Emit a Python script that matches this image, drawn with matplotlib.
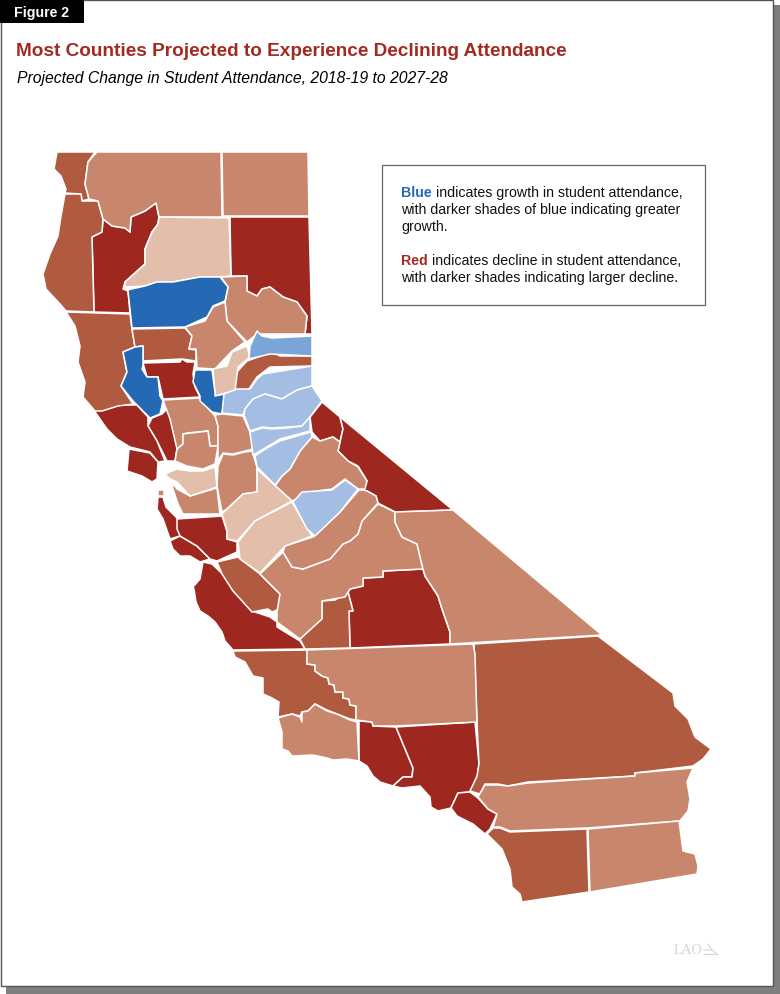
import matplotlib
matplotlib.use("Agg")
import matplotlib.pyplot as plt
from matplotlib.patches import Polygon, Rectangle

plt.rcParams['font.family'] = ['Liberation Sans', 'DejaVu Sans']

# shades
DARK_RED = '#9E271F'
MID_RED = '#B05A40'
LIGHT_RED = '#C8866D'
PALE_RED = '#E3BEAA'
DARK_BLUE = '#2569B5'
MID_BLUE = '#7BA5D8'
LIGHT_BLUE = '#A3BDE3'

# county outlines (x, y in image pixels)
del_norte = [(57,153),(95,153),(88,163),(85,185),(89,200),(82,202),(81,195),(65,194),(66,190),(61,177),(54,170)]
siskiyou = [(97,153),(221,153),(222,218),(159,218),(156,204),(145,212),(131,218),(130,233),(125,229),(112,227),(103,220),(98,202),(89,200),(85,185),(88,163)]
modoc = [(222,153),(308,153),(309,217),(223,217)]
humboldt = [(65,195),(81,195),(82,202),(98,202),(103,220),(102,233),(92,238),(94,313),(66,312),(60,305),(46,290),(43,275),(50,255),(58,237),(61,217)]
trinity = [(103,220),(112,227),(125,229),(130,233),(131,218),(145,212),(156,204),(159,218),(158,225),(152,233),(145,250),(145,265),(125,283),(123,290),(128,292),(130,314),(94,313),(92,238),(102,233)]
shasta = [(159,218),(229,219),(231,277),(220,278),(200,278),(173,283),(157,283),(145,287),(125,288),(125,283),(145,265),(145,250),(152,233),(158,225)]
lassen = [(230,218),(309,218),(312,335),(305,335),(307,317),(297,303),(283,298),(270,288),(262,290),(257,297),(247,292),(247,277),(231,277)]
tehama = [(127,291),(145,287),(157,283),(173,283),(200,278),(220,278),(228,288),(225,302),(213,307),(207,318),(185,328),(132,329),(128,292)]
plumas = [(221,278),(247,277),(247,292),(257,297),(262,290),(270,288),(283,298),(297,303),(307,317),(305,335),(257,335),(247,343),(227,322),(225,303),(228,288)]
butte = [(225,303),(227,322),(245,343),(232,352),(215,370),(197,369),(196,350),(189,350),(192,337),(185,328),(205,322),(213,308)]
glenn = [(132,330),(185,329),(192,337),(189,350),(196,351),(196,362),(182,360),(143,362),(143,347),(135,348)]
mendocino = [(66,313),(130,315),(132,330),(135,348),(123,353),(127,373),(121,387),(133,405),(118,407),(102,412),(95,412),(83,398),(85,383),(78,363),(80,347),(75,327)]
lake = [(123,353),(135,348),(143,347),(143,367),(142,370),(147,378),(158,378),(160,397),(163,402),(160,415),(150,419),(143,412),(133,402),(121,387),(127,373)]
colusa = [(143,364),(180,363),(182,360),(187,363),(195,363),(193,375),(195,388),(200,398),(163,400),(158,378),(147,378)]
sutter = [(195,371),(212,371),(215,393),(215,397),(225,395),(222,415),(212,413),(200,402),(200,397),(193,383)]
yuba = [(213,370),(227,367),(232,353),(247,347),(250,358),(238,368),(235,392),(225,394),(215,397)]
sierra = [(257,332),(262,337),(272,339),(312,337),(312,357),(270,355),(249,360),(250,347)]
nevada = [(272,353),(280,357),(312,357),(312,367),(270,368),(257,378),(247,393),(235,392),(235,375),(247,362)]
placer = [(263,375),(312,367),(312,387),(297,391),(282,400),(265,395),(253,400),(245,410),(243,416),(222,414),(224,395),(237,390),(250,390),(257,380)]
el_dorado = [(312,387),(322,402),(310,418),(302,427),(287,428),(272,429),(262,428),(250,432),(244,416),(245,410),(253,400),(265,395),(282,400),(297,391)]
amador = [(250,433),(262,429),(272,430),(287,429),(302,427),(310,418),(310,432),(280,440),(267,448),(253,456)]
calaveras = [(255,457),(267,449),(280,442),(311,433),(312,438),(300,452),(290,470),(282,477),(275,486),(257,468)]
alpine = [(322,403),(340,418),(343,430),(340,443),(333,438),(320,442),(312,433),(310,418)]
mono = [(340,418),(453,511),(395,513),(378,504),(376,497),(367,492),(363,491),(367,482),(358,467),(348,462),(338,452),(340,443),(343,430)]
tuolumne = [(312,438),(320,442),(333,438),(340,443),(338,452),(348,462),(358,468),(367,482),(365,490),(358,490),(345,480),(332,490),(317,492),(292,502),(275,487),(282,477),(290,470),(300,452)]
mariposa = [(293,503),(302,493),(317,492),(332,491),(345,481),(358,490),(340,513),(315,537),(307,530)]
yolo = [(163,401),(200,399),(207,408),(215,417),(218,427),(218,447),(210,447),(208,432),(187,434),(183,435),(183,445),(177,450),(170,420)]
solano = [(183,435),(208,432),(210,447),(218,447),(215,465),(203,470),(187,467),(175,462),(177,450),(183,445)]
napa = [(170,407),(175,417),(183,445),(177,450),(175,462),(167,462),(157,442),(148,427),(152,419),(162,415)]
sonoma = [(93,410),(103,410),(120,406),(137,406),(148,418),(148,427),(157,442),(165,462),(158,463),(150,453),(130,448),(117,440),(107,430)]
marin = [(129,450),(150,454),(158,463),(157,480),(152,483),(142,477),(127,472)]
sacramento = [(222,415),(243,417),(250,433),(253,450),(245,452),(233,455),(223,454),(218,462),(218,447),(218,427),(215,416)]
san_joaquin = [(223,455),(233,456),(245,453),(252,452),(257,468),(257,493),(243,495),(227,510),(222,513),(217,487),(218,467)]
contra_costa = [(165,475),(177,470),(190,472),(203,472),(215,468),(217,488),(190,497),(177,483),(170,480)]
alameda = [(172,483),(177,490),(190,497),(217,489),(220,515),(183,515),(178,505),(173,490)]
san_francisco = [(158,491),(164,491),(164,497),(158,497)]
san_mateo = [(158,498),(163,498),(166,508),(178,520),(180,537),(170,540),(163,520),(157,510)]
santa_cruz = [(170,542),(180,537),(197,547),(210,560),(200,563),(190,557),(180,557),(173,550)]
santa_clara = [(177,520),(222,517),(227,532),(227,540),(237,543),(237,553),(217,562),(210,560),(197,547),(180,537),(177,530)]
stanislaus = [(257,493),(257,470),(292,502),(255,522),(237,542),(227,540),(227,532),(222,515),(227,510),(243,495)]
merced = [(292,503),(312,537),(285,547),(260,574),(240,560),(238,543),(255,522)]
san_benito = [(217,563),(238,558),(260,575),(280,595),(279,610),(272,613),(268,610),(252,613),(233,592),(222,575)]
monterey = [(203,563),(212,565),(233,585),(235,593),(252,612),(270,618),(277,623),(277,628),(300,642),(305,650),(233,651),(225,642),(222,633),(215,623),(208,617),(200,612),(196,603),(194,590),(193,588),(200,580)]
fresno = [(260,575),(283,553),(292,568),(303,570),(330,560),(343,545),(350,542),(358,535),(362,522),(378,505),(395,513),(395,523),(402,538),(417,545),(423,570),(383,572),(383,578),(363,579),(363,587),(350,590),(345,598),(322,602),(322,620),(300,640),(277,623),(277,613),(280,595)]
madera = [(285,547),(313,538),(340,513),(359,491),(363,491),(367,492),(376,497),(378,504),(362,522),(358,535),(350,542),(343,545),(330,560),(303,570),(292,568),(283,553)]
kings = [(300,640),(322,619),(322,602),(335,601),(348,593),(353,612),(349,612),(350,649),(305,650)]
tulare = [(348,593),(350,590),(363,587),(363,579),(383,578),(383,572),(423,570),(425,577),(438,597),(442,610),(450,633),(450,645),(350,649),(349,612),(353,612)]
inyo = [(395,513),(453,511),(602,636),(450,645),(450,633),(442,610),(438,597),(425,577),(423,570),(417,545),(402,538),(395,523)]
san_bernardino = [(474,645),(598,637),(673,694),(675,707),(688,720),(695,738),(711,750),(703,760),(693,767),(635,774),(635,777),(528,783),(508,787),(498,785),(485,785),(480,795),(470,792),(477,777),(479,765),(477,723),(475,673)]
riverside = [(485,786),(498,786),(508,787),(528,784),(635,777),(635,774),(693,769),(687,783),(690,800),(688,812),(680,822),(587,829),(510,832),(500,828),(493,828),(497,815),(488,810),(478,798)]
san_diego = [(487,835),(493,829),(500,829),(510,833),(587,830),(589,893),(522,903),(520,895),(512,888),(510,870),(502,850)]
imperial = [(588,830),(679,822),(683,852),(695,855),(698,867),(697,875),(590,893)]
orange = [(458,794),(470,793),(478,799),(488,810),(497,815),(490,830),(485,835),(473,825),(457,817),(451,809)]
los_angeles = [(396,728),(475,723),(479,765),(477,780),(470,793),(458,794),(451,809),(438,812),(431,808),(430,798),(420,787),(402,789),(393,787),(403,778),(412,778),(413,769)]
ventura = [(359,722),(372,723),(373,727),(396,728),(413,769),(412,778),(403,778),(393,787),(380,783),(373,777),(367,767),(359,762)]
santa_barbara = [(278,719),(292,715),(300,718),(302,723),(302,713),(308,712),(315,705),(327,712),(337,715),(350,721),(357,723),(359,762),(347,760),(333,761),(327,759),(313,756),(292,757),(288,752),(282,750),(282,733)]
san_luis_obispo = [(233,652),(307,651),(307,665),(315,666),(315,672),(322,677),(328,679),(329,685),(334,686),(335,693),(343,693),(343,699),(349,700),(350,706),(356,707),(356,721),(350,720),(337,715),(327,711),(315,705),(308,712),(302,713),(300,717),(292,715),(278,718),(279,703),(270,698),(263,695),(263,679),(253,677),(245,663),(235,658)]
kern = [(307,651),(473,645),(475,655),(477,723),(396,727),(373,727),(372,723),(356,721),(356,707),(350,706),(349,700),(343,699),(343,693),(335,693),(334,686),(329,685),(328,679),(322,677),(315,672),(315,666),(307,665)]

dark_red_counties = [trinity, lassen, colusa, napa, sonoma, marin, alpine, mono, san_mateo, santa_cruz, santa_clara, monterey, tulare, ventura, los_angeles, orange]
mid_red_counties = [del_norte, humboldt, mendocino, glenn, nevada, san_benito, kings, san_luis_obispo, san_bernardino, san_diego]
light_red_counties = [siskiyou, modoc, plumas, butte, yolo, solano, sacramento, san_joaquin, alameda, san_francisco, tuolumne, fresno, madera, inyo, kern, santa_barbara, riverside, imperial]
pale_red_counties = [shasta, yuba, contra_costa, stanislaus, merced]
dark_blue_counties = [tehama, lake, sutter]
mid_blue_counties = [sierra]
light_blue_counties = [placer, el_dorado, amador, calaveras, mariposa]

groups = [(dark_red_counties, DARK_RED), (mid_red_counties, MID_RED),
          (light_red_counties, LIGHT_RED), (pale_red_counties, PALE_RED),
          (dark_blue_counties, DARK_BLUE), (mid_blue_counties, MID_BLUE),
          (light_blue_counties, LIGHT_BLUE)]

title = 'Most Counties Projected to Experience Declining Attendance'
subtitle = 'Projected Change in Student Attendance, 2018-19 to 2027-28'

fig = plt.figure(figsize=(7.8, 9.95), dpi=100)
ax = fig.add_axes([0, 0, 1, 1])
ax.set_xlim(0, 780)
ax.set_ylim(995, 0)
ax.axis('off')

# page with drop shadow
ax.add_patch(Rectangle((6, 6), 774, 989, fc='#7f7f7f', ec='none'))
ax.add_patch(Rectangle((0.5, 0.5), 772.5, 986.5, fc='white', ec='#555555', lw=1))
ax.add_patch(Rectangle((0, 0), 84, 24, fc='black', ec='none'))
ax.text(14, 12.5, 'Figure 2', color='white', fontsize=10.2, fontweight='bold', va='center')

ax.text(16, 51, title, color='#A22B20', fontsize=13.65, fontweight='bold', va='center')
ax.text(17, 78, subtitle, color='black', fontsize=11.3, style='italic', va='center')

for counties, colour in groups:
    for shape in counties:
        ax.add_patch(Polygon(shape, closed=True, fc=colour, ec='white', lw=1.1, joinstyle='round'))

# note box
ax.add_patch(Rectangle((381.5, 165.5), 323, 140, fc='white', ec='#666666', lw=0.9))
ax.text(401, 193, 'Blue', color=DARK_BLUE, fontsize=10.2, fontweight='bold', va='center')
ax.text(435.5, 193, 'indicates growth in student attendance,', color='#111111', fontsize=10.2, va='center')
ax.text(401, 210, 'with darker shades of blue indicating greater', color='#111111', fontsize=10.2, va='center')
ax.text(401, 227, 'growth.', color='#111111', fontsize=10.2, va='center')
ax.text(401, 261, 'Red', color='#A22B20', fontsize=10.2, fontweight='bold', va='center')
ax.text(431.5, 261, 'indicates decline in student attendance,', color='#111111', fontsize=10.2, va='center')
ax.text(401, 278, 'with darker shades indicating larger decline.', color='#111111', fontsize=10.2, va='center')

# faint logo
ax.text(674, 950, 'LAO', color='#d4d4d4', fontsize=10, family='Liberation Serif', va='center')
ax.plot([704, 717], [955, 955], color='#d4d4d4', lw=0.8)
ax.plot([704, 712, 717], [951, 951, 955], color='#d4d4d4', lw=0.8)
ax.plot([708, 712], [945, 951], color='#d4d4d4', lw=0.8)

fig.savefig('out.png', dpi=100)
